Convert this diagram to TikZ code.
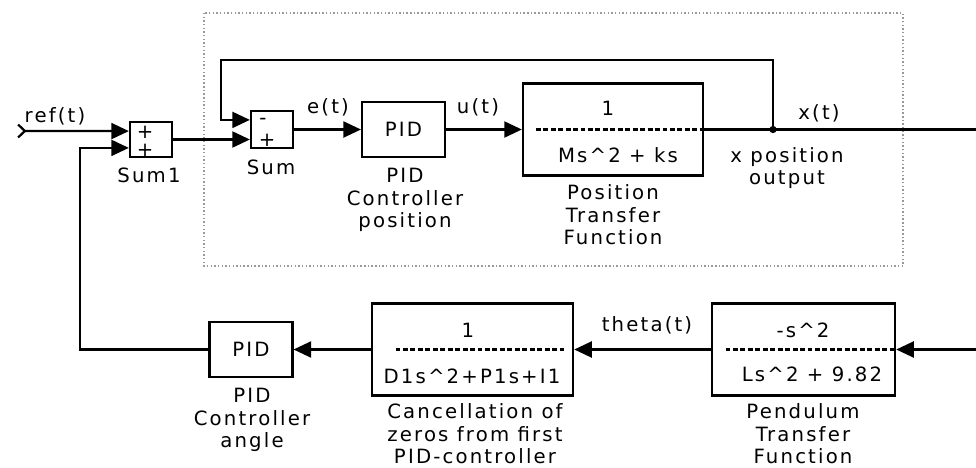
\documentclass[tikz,border=0pt]{standalone}
\usepackage{fontspec}
\newfontfamily\simfont{DejaVu Sans}[LetterSpace=11]
\usetikzlibrary{arrows.meta, positioning}

\newcommand\lblfont{\simfont\fontsize{14}{16}\selectfont}
\newcommand\signfont{\simfont\fontsize{14}{14}\selectfont}

\begin{document}
\begin{tikzpicture}[
    x=0.025cm, y=-0.025cm,
    every node/.style={font=\lblfont, inner sep=0pt},
    sumblock/.style={draw, line width=1.6pt, minimum width=1.05cm, minimum height=0.88cm},
    pidblock/.style={draw, line width=1.6pt, minimum width=2.07cm, minimum height=1.39cm},
    tfblock/.style={draw, line width=1.6pt, minimum height=2.3cm},
    blockname/.style={align=center},
    signtext/.style={font=\signfont},
    sig/.style={-{Triangle[length=0.44cm, width=0.4cm]}, line width=1.6pt},
    wire/.style={line width=1.6pt},
    tfline/.style={line width=1.5pt, dash pattern=on 3.5pt off 1.8pt},
    loopframe/.style={draw=gray!80, line width=1.1pt, dash pattern=on 1pt off 1.6pt},
    refstart/.style={{Straight Barb[reversed, length=0.17cm, width=0.32cm]}-{Triangle[length=0.44cm, width=0.4cm]}, line width=1.6pt}
]
\useasboundingbox (0,0) rectangle (976,468);

% Position loop (dotted frame)
\draw[loopframe] (204,13) rectangle (903,266);

\node[sumblock] (sum1) at (151,139.5) {};
\node[sumblock, minimum height=0.93cm] (sum) at (272,129.5) {};
\node[pidblock] (pidpos) at (403.5,129.5) {PID};
\node[tfblock, minimum width=4.5cm] (postf) at (613,129.5) {};

\node[signtext] (sum1plusa) at (145,132) {+};
\node[signtext] (sum1plusb) at (145,150) {+};
\node[signtext] (summinus) at (263,121) {-};
\node[signtext] (sumplus) at (267,140) {+};

\node (postfnum) at (608,108) {1};
\node (postfden) at (618,155) {Ms\textasciicircum2 + ks};
\draw[tfline] ([xshift=0.35cm]postf.west) -- (postf.east);

\node[blockname] (sum1name) at (149,175) {Sum1};
\node[blockname] (sumname) at (271,167) {Sum};
\node[blockname] (pidposname) at (405,200) {PID\\Controller\\position};
\node[blockname] (postfname) at (613,215) {Position\\Transfer\\Function};
\node[blockname] (xposname) at (787,168) {x position\\output};

\node (reflbl) at (55,116) {ref(t)};
\node (elbl) at (328,107) {e(t)};
\node (ulbl) at (478,107) {u(t)};
\node (xlbl) at (819,113) {x(t)};

% Angle loop
\node[pidblock] (pidang) at (251,349.5) {PID};
\node[tfblock, minimum width=5.03cm] (cancel) at (472.5,349.5) {};
\node[tfblock, minimum width=4.58cm] (pend) at (803.5,349.5) {};

\node (cancelnum) at (468,330) {1};
\node (cancelden) at (472,376) {D1s\textasciicircum2+P1s+I1};
\draw[tfline] ([xshift=0.62cm]cancel.west) -- ([xshift=-0.25cm]cancel.east);

\node (pendnum) at (803,330) {-s\textasciicircum2};
\node (pendden) at (812,374) {Ls\textasciicircum2 + 9.82};
\draw[tfline] ([xshift=0.37cm]pend.west) -- (pend.east);

\node[blockname] (pidangname) at (252,420) {PID\\Controller\\angle};
\node[blockname] (cancelname) at (475,434) {Cancellation of\\zeros from first\\PID-controller};
\node[blockname] (pendname) at (803,434) {Pendulum\\Transfer\\Function};
\node (thetalbl) at (647,325) {theta(t)};

% Connections
\coordinate (refin) at (17,131);
\coordinate (branch) at (773,129.5);
\coordinate (looptop) at (221,60);
\coordinate (xout) at (976,129.5);
\coordinate (thetain) at (976,349.5);
\coordinate (anglefb) at (80,349.5);

\draw[refstart] (refin) -- ([yshift=0.21cm]sum1.west);
\draw[sig] (sum1.east) -- (sum1.east -| sum.west);
\draw[sig] (sum.east) -- (pidpos.west);
\draw[sig] (pidpos.east) -- (postf.west);
\draw[wire] (postf.east) -- (xout);
\fill (branch) circle (2.6pt);
\draw[sig] (branch) |- (looptop) |- ([yshift=0.24cm]sum.west);

\draw[sig] (thetain) -- (pend.east);
\draw[sig] (pend.west) -- (cancel.east);
\draw[sig] (cancel.west) -- (pidang.east);
\draw[sig] (pidang.west) -- (anglefb) |- ([yshift=-0.21cm]sum1.west);

\end{tikzpicture}
\end{document}
